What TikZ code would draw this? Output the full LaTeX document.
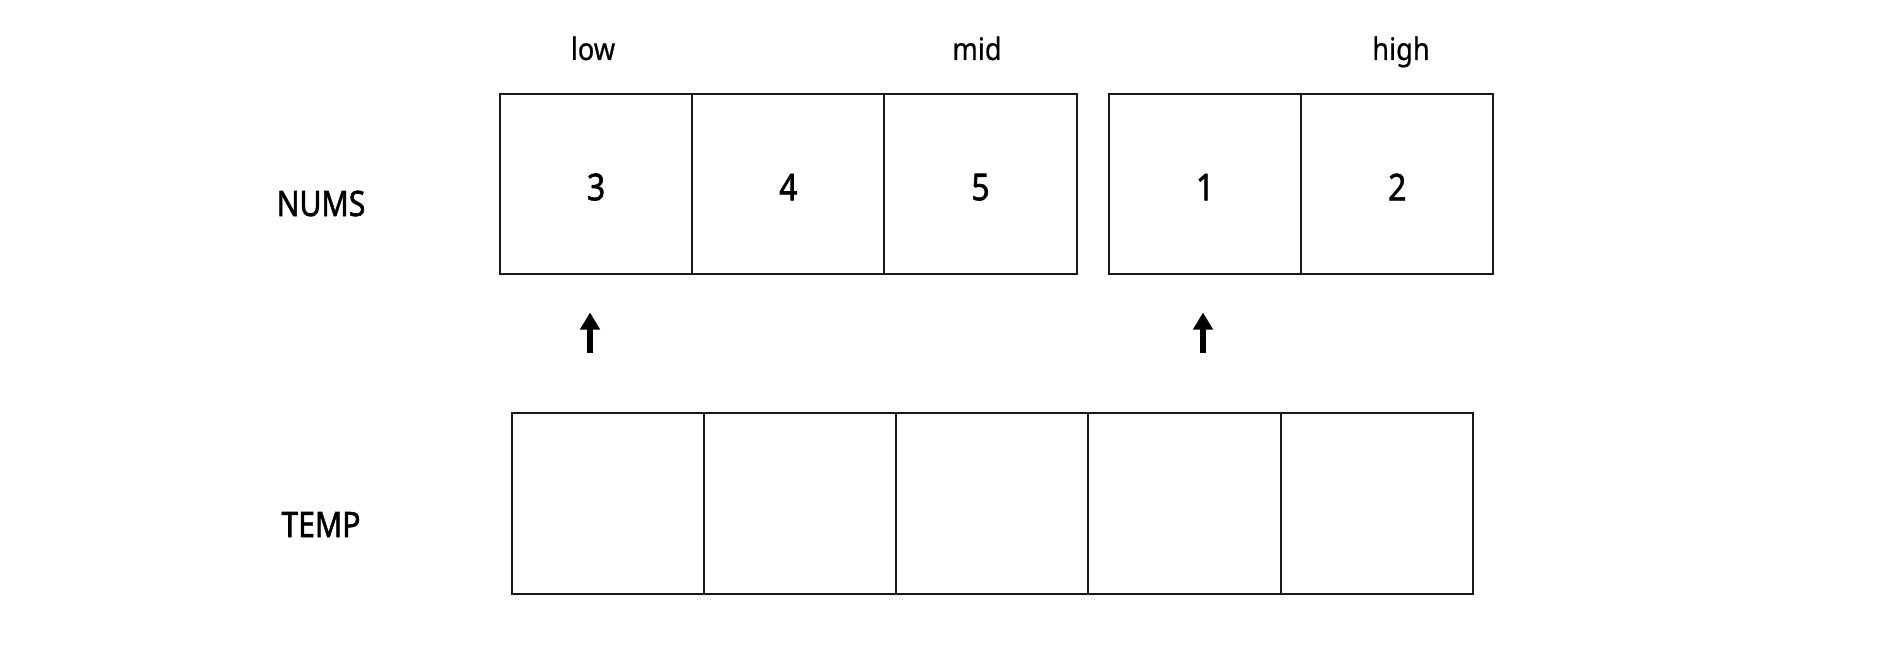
\documentclass[tikz,border=0pt]{standalone}
\usepackage{fontspec}
\setmainfont[FakeStretch=0.88]{Noto Sans}
\newfontfamily\semib[FakeStretch=0.86,FakeBold=1.6]{Noto Sans}
\newfontfamily\lightb[FakeStretch=0.88,FakeBold=0.5]{Noto Sans}
\usetikzlibrary{arrows.meta}
\tikzset{
  cell/.style={draw=black!90, line width=2pt, minimum width=192.2pt, minimum height=180.3pt, inner sep=0pt, outer sep=0pt},
  digit/.style={font=\semib\fontsize{37}{44}\selectfont, text height=33pt},
  ptr/.style={anchor=base, font=\lightb\fontsize{31}{36}\selectfont, inner sep=0pt},
  rowname/.style={anchor=base, font=\semib\fontsize{35}{40}\selectfont, inner sep=0pt},
  uparrow/.style={line width=6pt, -{Triangle[length=17pt,width=19pt]}}
}
\begin{document}
\begin{tikzpicture}[x=1pt,y=-1pt]
\useasboundingbox (0,0) rectangle (1884,647);
% labels
\node[ptr] (low) at (593,60) {low};
\node[ptr] (mid) at (977,60) {mid};
\node[ptr] (high) at (1401,60) {high};
\node[rowname] (nums) at (321,216) {NUMS};
\node[rowname] (temp) at (321,537) {TEMP};
% nums cells
\node[cell,digit] (n1) at (596.1,183.9) {3};
\node[cell,digit] (n2) at (788.3,183.9) {4};
\node[cell,digit] (n3) at (980.5,183.9) {5};
\node[cell,digit] (n4) at (1205.1,183.9) {1};
\node[cell,digit] (n5) at (1397.3,183.9) {2};
% temp cells
\node[cell] (t1) at (607.9,503.4) {};
\node[cell] (t2) at (800.1,503.4) {};
\node[cell] (t3) at (992.3,503.4) {};
\node[cell] (t4) at (1184.5,503.4) {};
\node[cell] (t5) at (1376.7,503.4) {};
% arrows
\coordinate (a1s) at (590,353);
\coordinate (a1e) at (590,312.5);
\coordinate (a2s) at (1203,353);
\coordinate (a2e) at (1203,312.5);
\draw[uparrow] (a1s) -- (a1e);
\draw[uparrow] (a2s) -- (a2e);
\end{tikzpicture}
\end{document}
